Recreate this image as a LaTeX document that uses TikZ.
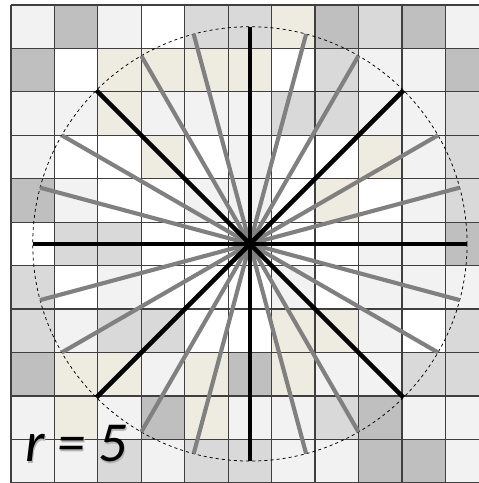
\documentclass[tikz,border=0pt]{standalone}
\usepackage{fontspec}
\newfontfamily\labelfont{Carlito}
\usetikzlibrary{calc}
\definecolor{cellW}{HTML}{FFFFFF}
\definecolor{cellL}{HTML}{F2F2F2}
\definecolor{cellM}{HTML}{D9D9D9}
\definecolor{cellD}{HTML}{BFBFBF}
\definecolor{cellB}{HTML}{EEECE1}
\definecolor{gridline}{HTML}{3F3F3F}
\definecolor{spoke}{HTML}{808080}

\begin{document}
\begin{tikzpicture}[
  cell/.style={fill=#1},
  gridlines/.style={draw=gridline, line width=0.8pt},
  mainray/.style={line width=3pt, black},
  midray/.style={line width=2.7pt, spoke},
  rim/.style={dash pattern=on 2pt off 2pt, line width=0.5pt, black},
  rtext/.style={font=\labelfont\itshape\fontsize{37}{40}\selectfont, inner sep=0pt, anchor=base west},
]
\useasboundingbox (-0.253,-0.005) rectangle (10.767,11.115);

% Cells, top row first
\foreach \row [count=\r from 0] in {
  {L,D,L,W,M,M,B,D,M,D,L},
  {D,W,B,B,B,B,W,M,L,L,D},
  {L,L,B,L,L,L,M,M,L,L,M},
  {L,W,W,B,W,L,W,W,B,L,M},
  {D,L,W,W,L,L,W,B,W,L,M},
  {W,M,M,W,W,W,W,W,L,L,D},
  {M,W,L,W,W,W,L,W,L,L,L},
  {M,L,M,M,W,W,B,B,L,W,M},
  {D,B,B,L,B,D,B,L,L,M,M},
  {L,B,L,D,B,L,L,M,D,L,L},
  {L,L,M,L,M,M,L,L,D,D,L}}{
  \foreach \c [count=\col from 0] in \row
    \fill[cell=cell\c] (\col,10-\r) rectangle ++(1,1);
}
\draw[gridlines] (0,0) grid (11,11);

% Centre and circle
\coordinate (c) at (5.5,5.5);
\draw[rim] (c) circle (5);

% Rays
\foreach \a in {15,30,60,75,105,120,150,165,195,210,240,255,285,300,330,345}
  \draw[midray] (c) -- ++(\a:5);
\foreach \a in {0,45,...,315}
  \draw[mainray] (c) -- ++(\a:5);

% Label
\node[rtext, text=black!30] (rshadow) at (0.35,0.45) {r = 5};
\node[rtext] (rlabel) at (0.32,0.48) {r = 5};

\end{tikzpicture}
\end{document}
